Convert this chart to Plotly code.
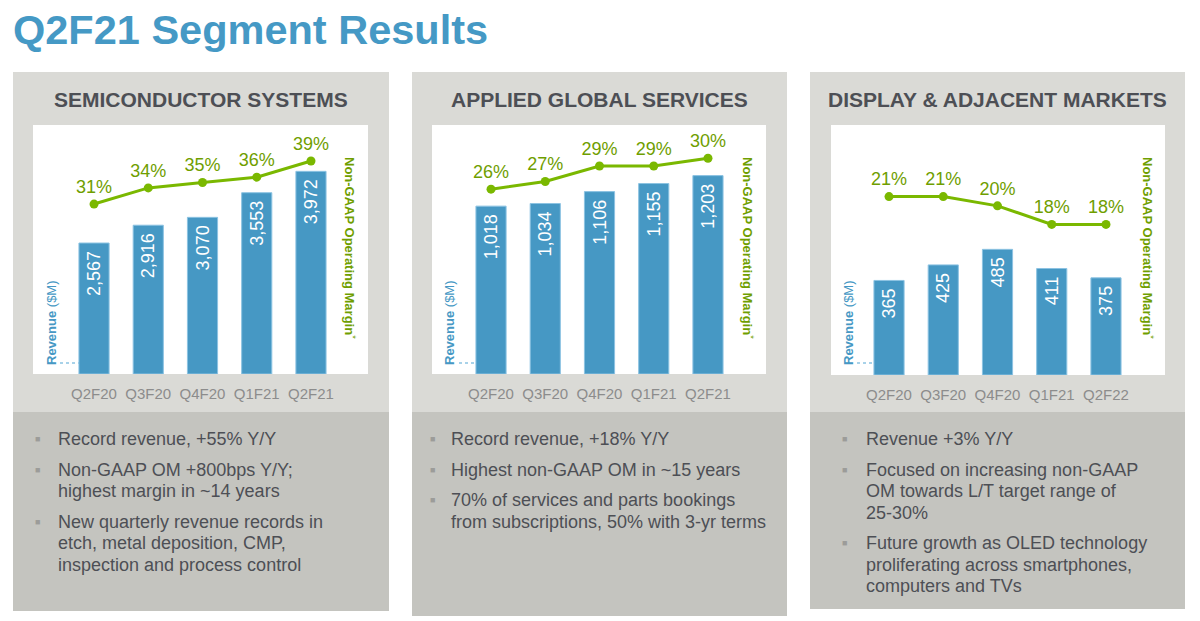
import plotly.graph_objects as go

W, H = 1200, 621
FONT = "Liberation Sans, Arial, sans-serif"

# ---------------- data ----------------
quarters_semi = ["Q2F20", "Q3F20", "Q4F20", "Q1F21", "Q2F21"]
quarters_ags = ["Q2F20", "Q3F20", "Q4F20", "Q1F21", "Q2F21"]
quarters_disp = ["Q2F20", "Q3F20", "Q4F20", "Q1F21", "Q2F22"]

semi_revenue = [2567, 2916, 3070, 3553, 3972]
semi_margin = [31, 34, 35, 36, 39]
ags_revenue = [1018, 1034, 1106, 1155, 1203]
ags_margin = [26, 27, 29, 29, 30]
disp_revenue = [365, 425, 485, 411, 375]
disp_margin = [21, 21, 20, 18, 18]

panel_titles = ["SEMICONDUCTOR SYSTEMS", "APPLIED GLOBAL SERVICES", "DISPLAY & ADJACENT MARKETS"]

semi_bullets = [
    ["Record revenue, +55% Y/Y"],
    ["Non-GAAP OM +800bps Y/Y;", "highest margin in ~14 years"],
    ["New quarterly revenue records in", "etch, metal deposition, CMP,", "inspection and process control"],
]
ags_bullets = [
    ["Record revenue, +18% Y/Y"],
    ["Highest non-GAAP OM in ~15 years"],
    ["70% of services and parts bookings", "from subscriptions, 50% with 3-yr terms"],
]
disp_bullets = [
    ["Revenue +3% Y/Y"],
    ["Focused on increasing non-GAAP", "OM towards L/T target range of", "25-30%"],
    ["Future growth as OLED technology", "proliferating across smartphones,", "computers and TVs"],
]

main_title = "Q2F21 Segment Results"
left_axis_label = "<b>Revenue</b> ($M)"
right_axis_label = "<b>Non-GAAP Operating Margin</b><sup>*</sup>"

# ---------------- styling / layout geometry (pixels) ----------------
BLUE = "#4698c4"
BAR_EDGE = "#8cc3e2"
GREEN_LINE = "#7ab800"
GREEN_TEXT = "#6f9e00"
TITLE_BLUE = "#4599c5"
DARK = "#4d4f55"
TICK_GRAY = "#8c8c8c"
PANEL_TOP = "#dadad6"
PANEL_BOTTOM = "#c4c4bf"


def px_x(v):
    return v / W


def px_y(v):
    return 1 - v / H


panels = [
    dict(x0=13, x1=389, bottom=611, white=(33, 368, 125, 374), dom=(66.9, 338.1),
         cats=quarters_semi, rev=semi_revenue, om=semi_margin, yr=[0, 4880], y2r=[-0.6, 45.7],
         bullets=semi_bullets, bx=37.5, tx=55.5, revx=51, omx=350, dot=(60, 79)),
    dict(x0=412, x1=787, bottom=616, white=(432, 766, 125, 374), dom=(463.9, 735.1),
         cats=quarters_ags, rev=ags_revenue, om=ags_margin, yr=[0, 1510], y2r=[2.1, 34.3],
         bullets=ags_bullets, bx=432, tx=448.5, revx=449, omx=748, dot=(459, 476)),
    dict(x0=810, x1=1185, bottom=609, white=(831, 1165, 125, 375), dom=(861.9, 1133.1),
         cats=quarters_disp, rev=disp_revenue, om=disp_margin, yr=[0, 965], y2r=[1.8, 28.7],
         bullets=disp_bullets, bx=844, tx=863.5, revx=848, omx=1148, dot=(857, 875)),
]

fig = go.Figure()
shapes = []
annotations = []
layout_axes = {}

for i, p in enumerate(panels):
    n = i + 1
    xa = "x" if n == 1 else f"x{n}"
    ya = "y" if n == 1 else f"y{n}"
    ya2 = f"y{n + 3}"

    # panel backgrounds
    shapes.append(dict(type="rect", xref="paper", yref="paper", layer="below",
                       x0=px_x(p["x0"]), x1=px_x(p["x1"]), y0=px_y(412), y1=px_y(72),
                       fillcolor=PANEL_TOP, line=dict(width=0)))
    shapes.append(dict(type="rect", xref="paper", yref="paper", layer="below",
                       x0=px_x(p["x0"]), x1=px_x(p["x1"]), y0=px_y(p["bottom"]), y1=px_y(412),
                       fillcolor=PANEL_BOTTOM, line=dict(width=0)))
    wx0, wx1, wy0, wy1 = p["white"]
    shapes.append(dict(type="rect", xref="paper", yref="paper", layer="below",
                       x0=px_x(wx0), x1=px_x(wx1), y0=px_y(wy1), y1=px_y(wy0),
                       fillcolor="white", line=dict(width=0)))
    # dotted baseline stub next to the axis label
    shapes.append(dict(type="line", xref="paper", yref="paper", layer="above",
                       x0=px_x(p["dot"][0]), x1=px_x(p["dot"][1]), y0=px_y(363), y1=px_y(363),
                       line=dict(color=BAR_EDGE, width=1.5, dash="dot")))

    fig.add_trace(go.Bar(
        x=p["cats"], y=p["rev"], xaxis=xa, yaxis=ya,
        marker=dict(color=BLUE, line=dict(color=BAR_EDGE, width=1)),
        texttemplate="%{y:,}\u00a0", textposition="inside", insidetextanchor="end",
        textangle=-90, constraintext="none",
        textfont=dict(family=FONT, size=18, color="white"),
        showlegend=False, hoverinfo="skip",
    ))
    fig.add_trace(go.Scatter(
        x=p["cats"], y=p["om"], xaxis=xa, yaxis=ya2, mode="lines+markers+text",
        line=dict(color=GREEN_LINE, width=3), marker=dict(color=GREEN_LINE, size=9),
        texttemplate="%{y}%", textposition="top center",
        textfont=dict(family=FONT, size=18, color=GREEN_TEXT),
        showlegend=False, hoverinfo="skip", cliponaxis=False,
    ))

    dom_x = [px_x(p["dom"][0]), px_x(p["dom"][1])]
    dom_y = [px_y(wy1), px_y(wy0)]
    layout_axes["xaxis" if n == 1 else f"xaxis{n}"] = dict(
        domain=dom_x, anchor=ya, type="category", range=[-0.5, 4.5],
        showgrid=False, zeroline=False, showline=False,
        ticks="outside", ticklen=6, tickcolor="rgba(0,0,0,0)",
        tickfont=dict(family=FONT, size=15, color=TICK_GRAY), fixedrange=True)
    layout_axes["yaxis" if n == 1 else f"yaxis{n}"] = dict(
        domain=dom_y, anchor=xa, range=p["yr"], visible=False, fixedrange=True)
    layout_axes[f"yaxis{n + 3}"] = dict(
        overlaying=ya, anchor=xa, side="right", range=p["y2r"], visible=False, fixedrange=True)

    # panel title
    annotations.append(dict(text=f"<b>{panel_titles[i]}</b>", xref="paper", yref="paper",
                            x=px_x((p["x0"] + p["x1"]) / 2), y=px_y(99), xanchor="center", yanchor="middle",
                            showarrow=False, font=dict(family=FONT, size=21, color=DARK)))
    # axis labels
    annotations.append(dict(text=left_axis_label, xref="paper", yref="paper",
                            x=px_x(p["revx"]), y=px_y(323), xanchor="center", yanchor="middle",
                            textangle=-90, showarrow=False, font=dict(family=FONT, size=13, color=BLUE)))
    annotations.append(dict(text=right_axis_label, xref="paper", yref="paper",
                            x=px_x(p["omx"]), y=px_y(248), xanchor="center", yanchor="middle",
                            textangle=90, showarrow=False, font=dict(family=FONT, size=13, color=GREEN_TEXT)))

    # bullet text
    yy = 439
    for b, lines in enumerate(p["bullets"]):
        if b > 0:
            yy += 30.5
        annotations.append(dict(text="■", xref="paper", yref="paper", x=px_x(p["bx"]), y=px_y(yy),
                                xanchor="center", yanchor="middle", showarrow=False,
                                font=dict(family=FONT, size=9, color="#9c9c99")))
        for k, line in enumerate(lines):
            if k > 0:
                yy += 21.5
            annotations.append(dict(text=line, xref="paper", yref="paper", x=px_x(p["tx"]), y=px_y(yy),
                                    xanchor="left", yanchor="middle", showarrow=False,
                                    font=dict(family=FONT, size=18, color=DARK)))

annotations.append(dict(text=f"<b>{main_title}</b>", xref="paper", yref="paper",
                        x=px_x(11), y=px_y(30), xanchor="left", yanchor="middle", showarrow=False,
                        font=dict(family=FONT, size=41.5, color=TITLE_BLUE)))

fig.update_layout(
    width=W, height=H, margin=dict(l=0, r=0, t=0, b=0),
    paper_bgcolor="white", plot_bgcolor="rgba(0,0,0,0)",
    bargap=0.444, shapes=shapes, annotations=annotations, showlegend=False,
    font=dict(family=FONT),
    **layout_axes,
)

fig.write_html("out.html", config=dict(displayModeBar=False),
               post_script="document.body.style.margin='0';document.body.style.padding='0';")
